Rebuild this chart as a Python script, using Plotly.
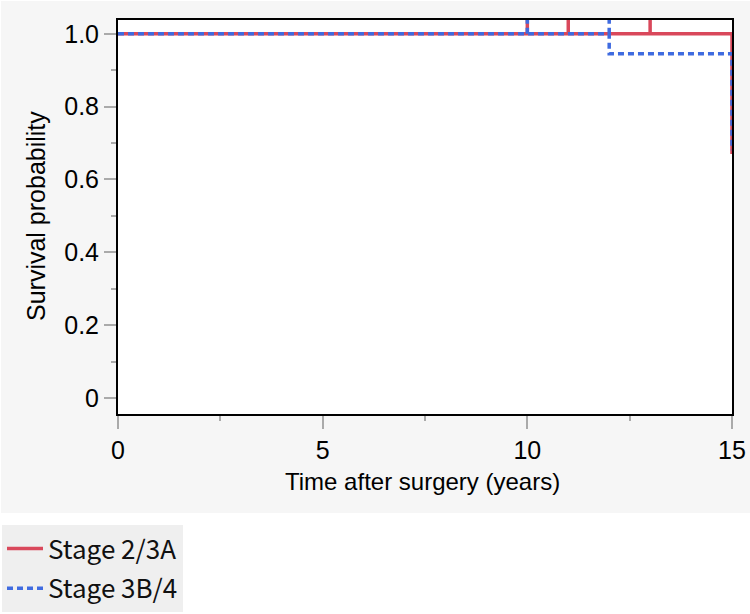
import plotly.graph_objects as go

# Kaplan-Meier step data
red_name = "Stage 2/3A"
red_t = [0, 15, 15]
red_s = [1.0, 1.0, 0.67]
red_cens_t = [10, 11, 13]

blue_name = "Stage 3B/4"
blue_t = [0, 12, 12, 15, 15]
blue_s = [1.0, 1.0, 0.945, 0.945, 0.68]
blue_cens_t = [10, 12]

y_tickvals = [0, 0.2, 0.4, 0.6, 0.8, 1.0]
y_ticktext = ["0", "0.2", "0.4", "0.6", "0.8", "1.0"]
x_tickvals = [0, 5, 10, 15]
x_ticktext = ["0", "5", "10", "15"]

RED = "#d9485b"
BLUE = "#3f6be0"
CENS_TOP = 1.06

def cens_xy(ts, base):
    xs, ys = [], []
    for t in ts:
        xs += [t, t, None]
        ys += [base, CENS_TOP, None]
    return xs, ys

fig = go.Figure()
fig.add_trace(go.Scatter(x=red_t, y=red_s, mode="lines", name=red_name,
                         line=dict(color=RED, width=3.5),
                         legendgroup="a"))
cx, cy = cens_xy(red_cens_t, 1.0)
fig.add_trace(go.Scatter(x=cx, y=cy, mode="lines", showlegend=False,
                         line=dict(color=RED, width=3.5), legendgroup="a"))
fig.add_trace(go.Scatter(x=blue_t, y=blue_s, mode="lines", name=blue_name,
                         line=dict(color=BLUE, width=3.5, dash="6px,4px"),
                         legendgroup="b"))
cx, cy = cens_xy(blue_cens_t, 1.0)
fig.add_trace(go.Scatter(x=cx, y=cy, mode="lines", showlegend=False,
                         line=dict(color=BLUE, width=3.5, dash="6px,4px"), legendgroup="b"))

L, R, T, B = 118, 18, 20, 200
W, H = 750, 614
pw, ph = W - L - R, H - T - B

def px(xpix):
    return (xpix - L) / pw

def py(ypix):
    return (H - B - ypix) / ph

GRAY = "#f6f6f6"
tick_font = dict(family="Liberation Sans, Arial, sans-serif", size=25, color="#000")
xtitle_font = dict(family="Liberation Sans, Arial, sans-serif", size=24, color="#000")

fig.update_layout(
    width=W, height=H,
    margin=dict(l=L, r=R, t=T, b=B, autoexpand=False),
    paper_bgcolor=GRAY,
    plot_bgcolor="white",
    showlegend=True,
    legend=dict(xref="container", yref="container",
                x=2 / W, y=1 - 525 / H, xanchor="left", yanchor="top",
                bgcolor="#efefef", borderwidth=0,
                font=dict(family="Noto Sans CJK JP", size=26, color="#111"),
                traceorder="grouped", tracegroupgap=3,
                itemwidth=36),
    xaxis=dict(range=[0, 15], tickvals=x_tickvals, ticktext=x_ticktext,
               ticks="outside", ticklen=13, tickwidth=2, tickcolor="#aaaaaa",
               showline=True, linecolor="black", linewidth=2, mirror=True,
               showgrid=False, zeroline=False, tickfont=tick_font, automargin=False,
               minor=dict(tickvals=[2.5, 7.5, 12.5], ticks="outside", ticklen=5,
                          tickwidth=2, tickcolor="#aaaaaa", showgrid=False)),
    yaxis=dict(range=[-0.044, 1.038], tickvals=y_tickvals, ticktext=y_ticktext,
               ticks="outside", ticklen=12, tickwidth=2, tickcolor="#aaaaaa",
               showline=True, linecolor="black", linewidth=2, mirror=True,
               showgrid=False, zeroline=False, tickfont=tick_font, automargin=False,
               minor=dict(tickvals=[0.1, 0.3, 0.5, 0.7, 0.9], ticks="outside", ticklen=5,
                          tickwidth=2, tickcolor="#aaaaaa", showgrid=False)),
    shapes=[
        dict(type="rect", xref="paper", yref="paper", layer="below",
             x0=px(-5), x1=px(760), y0=py(620), y1=py(513),
             fillcolor="white", line=dict(width=0)),
        dict(type="rect", xref="paper", yref="paper", layer="below",
             x0=px(-5), x1=px(1), y0=py(620), y1=py(-5),
             fillcolor="white", line=dict(width=0)),
        dict(type="rect", xref="paper", yref="paper", layer="below",
             x0=px(-5), x1=px(760), y0=py(1), y1=py(-5),
             fillcolor="white", line=dict(width=0)),
    ],
    annotations=[
        dict(text="Time after surgery (years)", xref="paper", yref="paper",
             x=px(422), y=py(481), showarrow=False, font=xtitle_font,
             xanchor="center", yanchor="middle"),
        dict(text="Survival probability", xref="paper", yref="paper",
             x=px(36), y=py(216), showarrow=False, font=tick_font, textangle=-90,
             xanchor="center", yanchor="middle"),
    ],
)

fig.write_html("out.html")
